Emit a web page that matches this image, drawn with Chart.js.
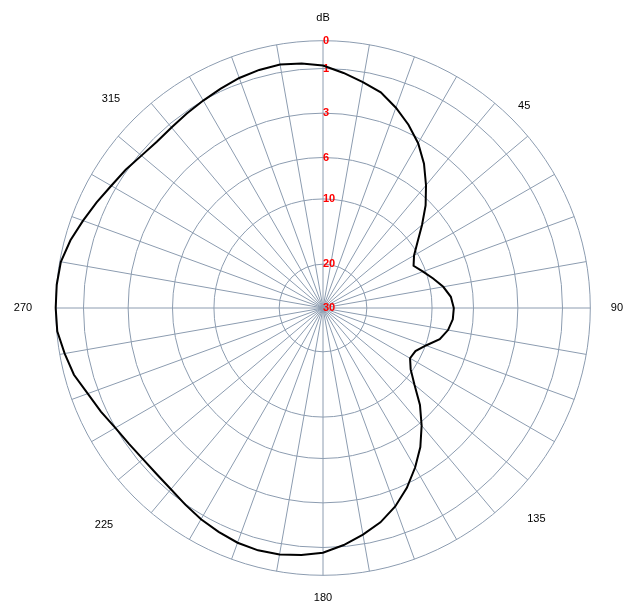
<!DOCTYPE html>
<html>
<head>
<meta charset="utf-8">
<script src="https://cdn.jsdelivr.net/npm/chart.js@4/dist/chart.umd.min.js"></script>
<style>
  html, body { margin: 0; padding: 0; background: #fff; }
  #wrap { width: 638px; height: 613px; }
</style>
</head>
<body>
<div id="wrap"><canvas id="polarChart"></canvas></div>
<script>
// azimuth, degrees clockwise from top, 5 degree steps
const angles = [
  0, 5, 10, 15, 20, 25, 30, 35, 40, 45, 50, 55,
  60, 65, 70, 75, 80, 85, 90, 95, 100, 105, 110, 115,
  120, 125, 130, 135, 140, 145, 150, 155, 160, 165, 170, 175,
  180, 185, 190, 195, 200, 205, 210, 215, 220, 225, 230, 235,
  240, 245, 250, 255, 260, 265, 270, 275, 280, 285, 290, 295,
  300, 305, 310, 315, 320, 325, 330, 335, 340, 345, 350, 355
];

// attenuation in dB below maximum
const gainDb = [
  0.89, 1.16, 1.45, 1.73, 2.18, 2.67, 3.31, 4.27, 5.34, 6.52, 8.05, 9.38,
  10.6, 11.4, 10.4, 9.52, 8.74, 8.14, 7.9, 7.95, 8.27, 8.86, 9.95, 11.08,
  11.31, 10.31, 9.0, 7.29, 5.8, 4.7, 3.72, 2.84, 2.27, 1.79, 1.42, 1.07,
  0.81, 0.70, 0.61, 0.59, 0.63, 0.73, 0.84, 0.98, 1.13, 1.2, 1.2, 1.12,
  0.99, 0.80, 0.61, 0.34, 0.18, 0.02, 0, 0, 0.04, 0.21, 0.43, 0.63,
  0.82, 0.95, 1.11, 1.2, 1.17, 1.09, 1.0, 0.91, 0.81, 0.75, 0.72, 0.79
];

// dB rings, centre first, and where each ring sits as a share of the radius
const dbTicks = [30, 20, 10, 6, 3, 1, 0];
const ringFrac = [0, 0.164, 0.408, 0.563, 0.729, 0.896, 1];

// only these azimuths get a label, 0 shows the unit
const angleTickLabels = { 0: 'dB', 45: '45', 90: '90', 135: '135', 180: '180', 225: '225', 270: '270', 315: '315' };
// gap between outer ring and each azimuth label
const labelPad = { 0: 9, 45: 1, 90: 13, 135: 14, 180: 9, 225: 22, 270: 16, 315: 12 };

const GRID = 'rgb(140,156,176)';

// radial scale with the non-linear dB ring spacing
class DbRadialScale extends Chart.RadialLinearScale {
  getDistanceFromCenterForValue(value) {
    if (value === null || value === undefined || isNaN(value)) return NaN;
    const v = Math.min(Math.max(value, 0), 30);
    for (let i = 0; i < dbTicks.length - 1; i++) {
      const hi = dbTicks[i], lo = dbTicks[i + 1];
      if (v <= hi && v >= lo) {
        const t = (hi - v) / (hi - lo);
        return this.drawingArea * (ringFrac[i] + t * (ringFrac[i + 1] - ringFrac[i]));
      }
    }
    return this.drawingArea;
  }

  // tick labels start at the vertical axis instead of centred on it
  drawLabels() {
    const opts = this.options.ticks;
    if (!opts.display) return;
    const c = this.ctx;
    c.save();
    c.translate(this.xCenter, this.yCenter);
    c.font = 'bold 11px "Liberation Sans", Arial, sans-serif';
    c.fillStyle = '#ff0000';
    c.textAlign = 'left';
    c.textBaseline = 'middle';
    this.ticks.forEach(t => {
      c.fillText(t.label, 0, -this.getDistanceFromCenterForValue(t.value));
    });
    c.restore();
  }
}
DbRadialScale.id = 'dbRadial';
DbRadialScale.defaults = Chart.RadialLinearScale.defaults;
Chart.register(DbRadialScale);

new Chart(document.getElementById('polarChart'), {
  type: 'radar',
  data: {
    labels: angles,
    datasets: [{
      data: gainDb,
      borderColor: '#000',
      borderWidth: 2,
      pointRadius: 0,
      fill: false,
      tension: 0
    }]
  },
  options: {
    responsive: true,
    maintainAspectRatio: false,
    animation: false,
    layout: { padding: { left: 0, right: 0, top: 11, bottom: 7 } },
    plugins: { legend: { display: false }, tooltip: { enabled: false } },
    scales: {
      r: {
        type: 'dbRadial',
        min: 0,
        max: 30,
        reverse: true,
        afterBuildTicks: s => { s.ticks = dbTicks.map(v => ({ value: v })); },
        ticks: {
          showLabelBackdrop: false,
          color: '#ff0000',
          font: { family: '"Liberation Sans", Arial, sans-serif', size: 11, weight: 'bold' },
          callback: v => String(v)
        },
        grid: { color: GRID, lineWidth: 1, circular: true },
        angleLines: {
          color: GRID,
          lineWidth: ctx => (ctx.index % 2 === 0 ? 1 : 0)
        },
        pointLabels: {
          padding: ctx => labelPad[angles[ctx.index]] ?? 9,
          color: '#000',
          font: { family: '"Liberation Sans", Arial, sans-serif', size: 11 },
          callback: (lbl) => angleTickLabels[lbl] || ''
        }
      }
    }
  }
});
</script>
</body>
</html>
